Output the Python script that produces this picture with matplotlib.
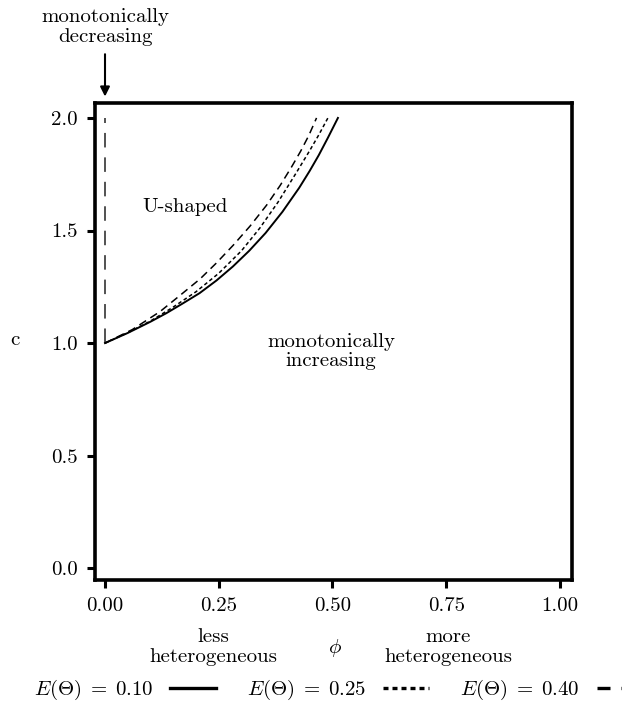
import matplotlib
matplotlib.use("Agg")
import matplotlib.pyplot as plt
from matplotlib.lines import Line2D

plt.rcParams['font.family'] = ['cmr10', 'DejaVu Serif']
plt.rcParams['mathtext.fontset'] = 'cm'
plt.rcParams['axes.formatter.use_mathtext'] = True

# data: boundary curves (phi, c) for each E(Theta)
phi_010 = [0.0, 0.05, 0.10, 0.135, 0.17, 0.208, 0.245, 0.281, 0.317, 0.353, 0.39, 0.427, 0.45, 0.47, 0.49, 0.512]
c_010   = [1.0, 1.045, 1.095, 1.133, 1.175, 1.222, 1.278, 1.34, 1.41, 1.489, 1.583, 1.69, 1.765, 1.835, 1.912, 2.0]

phi_025 = [0.0, 0.05, 0.10, 0.15, 0.20, 0.25, 0.30, 0.34, 0.38, 0.42, 0.45, 0.47, 0.49]
c_025   = [1.0, 1.046, 1.098, 1.16, 1.228, 1.31, 1.41, 1.51, 1.625, 1.755, 1.855, 1.925, 2.0]

phi_040 = [0.0, 0.06, 0.121, 0.165, 0.209, 0.245, 0.282, 0.319, 0.355, 0.385, 0.41, 0.43, 0.448, 0.465]
c_040   = [1.0, 1.06, 1.14, 1.212, 1.285, 1.356, 1.435, 1.52, 1.612, 1.70, 1.782, 1.852, 1.922, 2.0]

# boundary of the monotonically decreasing region at phi = 0
vert_phi = [0.0, 0.0]
vert_c = [1.0, 2.0]

labels = [r'$E(\Theta)\;=\;0.10$', r'$E(\Theta)\;=\;0.25$', r'$E(\Theta)\;=\;0.40$']
x_ticks = [0.0, 0.25, 0.5, 0.75, 1.0]
x_ticklabels = ['0.00', '0.25', '0.50', '0.75', '1.00']
y_ticks = [0.0, 0.5, 1.0, 1.5, 2.0]
y_ticklabels = ['0.0', '0.5', '1.0', '1.5', '2.0']

FS = 15
fig = plt.figure(figsize=(6.22, 7.09), dpi=100)
ax = fig.add_axes([0.152, 0.182, 0.9192 - 0.152, 0.8543 - 0.182])

ax.plot(vert_phi, vert_c, color='#222222', lw=1.1, ls=(0, (9.5, 6.5)))
ax.plot(phi_010, c_010, color='black', lw=1.4, ls='-')
ax.plot(phi_025, c_025, color='black', lw=1.1, ls=(0, (2.4, 1.8)))
ax.plot(phi_040, c_040, color='black', lw=1.1, ls=(0, (5.2, 3.3)))

ax.set_xlim(-0.023, 1.026)
ax.set_ylim(-0.052, 2.065)
ax.set_xticks(x_ticks)
ax.set_xticklabels(x_ticklabels)
ax.set_yticks(y_ticks)
ax.set_yticklabels(y_ticklabels)
ax.tick_params(axis='both', direction='out', length=6, width=2.2, labelsize=FS, pad=6, colors='black')
for s in ax.spines.values():
    s.set_linewidth(2.6)

ax.text(0.175, 1.606, 'U-shaped', fontsize=FS, ha='center', va='center')
ax.text(0.497, 0.963, 'monotonically\nincreasing', fontsize=FS, ha='center', va='center', linespacing=1.1)

# top annotation with arrow
ax.annotate('monotonically\ndecreasing', xy=(0.0, 2.095), xycoords='data',
            xytext=(0.0, 2.32), textcoords='data', fontsize=FS, ha='center', va='bottom',
            linespacing=1.1, annotation_clip=False,
            arrowprops=dict(arrowstyle='-|>', color='black', lw=1.5, mutation_scale=14,
                            shrinkA=4, shrinkB=0))

# axis labels
fig.text(15 / 622, 1 - 340 / 709, 'c', fontsize=FS, ha='center', va='center')
fig.text(335 / 622, 1 - 648 / 709, r'$\phi$', fontsize=FS, ha='center', va='center')
fig.text(213 / 622, 1 - 647 / 709, 'less\nheterogeneous', fontsize=FS, ha='center', va='center', linespacing=1.1)
fig.text(448 / 622, 1 - 647 / 709, 'more\nheterogeneous', fontsize=FS, ha='center', va='center', linespacing=1.1)

handles = [Line2D([0], [0], lw=2.4, color='black', ls='-'),
           Line2D([0], [0], lw=2.4, color='black', ls=(0, (1.5, 1.2))),
           Line2D([0], [0], lw=2.4, color='black', ls=(0, (3.9, 3.3)))]
fig.legend(handles, labels, loc='center left', bbox_to_anchor=(34 / 622, 1 - 690 / 709),
           ncol=3, frameon=False, markerfirst=False, prop={'size': 15}, handlelength=2.2,
           columnspacing=1.5, handletextpad=0.8, borderpad=0.0, borderaxespad=0.0)

fig.savefig('out.png', dpi=100)
